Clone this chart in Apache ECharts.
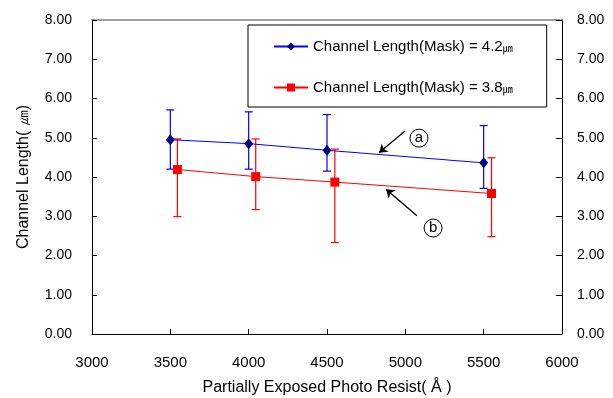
<!DOCTYPE html>
<html>
<head>
<meta charset="utf-8">
<script src="https://cdn.jsdelivr.net/npm/echarts@6/dist/echarts.min.js"></script>
<style>
  html, body { margin: 0; padding: 0; background: #fff; }
  #chart { width: 613px; height: 398px; }
</style>
</head>
<body>
<div id="chart"></div>
<script>
/* data */
const X_TICKS = [3000, 6000, 500]
const Y_TICKS = [0, 8, 1]

const NAME_A = 'Channel Length(Mask) = 4.2㎛'
const NAME_B = 'Channel Length(Mask) = 3.8㎛'

const xA    = [3500, 4000, 4500, 5500]
const yA    = [4.95, 4.85, 4.68, 4.36]
const hiA   = [5.71, 5.66, 5.59, 5.31]
const loA   = [4.20, 4.20, 4.15, 3.71]

const xB    = [3545, 4045, 4550, 5550]
const yB    = [4.19, 4.01, 3.87, 3.58]
const hiB   = [4.97, 4.97, 4.71, 4.49]
const loB   = [2.99, 3.17, 2.33, 2.48]

// annotation arrows: [from, to] and circled labels, in data units
const ARROWS = [
  [[4998, 5.17], [4832, 4.62]],
  [[5074, 3.01], [4877, 3.69]],
]
const MARKS = [
  { coord: [5087, 4.99], text: 'a' },
  { coord: [5177, 2.70], text: 'b' },
]

const FONT = '"Liberation Sans", Arial, sans-serif'

function errSeries(xs, lo, hi, color) {
  return {
    type: 'custom',
    silent: true,
    z: 1,
    data: xs.map((x, i) => [x, lo[i], hi[i]]),
    encode: { x: 0, y: [1, 2] },
    renderItem: (params, api) => {
      const x = api.value(0)
      const pLo = api.coord([x, api.value(1)])
      const pHi = api.coord([x, api.value(2)])
      const w = 4
      const st = { stroke: color, lineWidth: 1.2 }
      return {
        type: 'group',
        children: [
          { type: 'line', shape: { x1: pLo[0], y1: pLo[1], x2: pHi[0], y2: pHi[1] }, style: st },
          { type: 'line', shape: { x1: pHi[0] - w, y1: pHi[1], x2: pHi[0] + w, y2: pHi[1] }, style: st },
          { type: 'line', shape: { x1: pLo[0] - w, y1: pLo[1], x2: pLo[0] + w, y2: pLo[1] }, style: st },
        ],
      }
    },
  }
}

const legendFmt = n => {
  const i = n.lastIndexOf('㎛')
  return '{t|' + n.slice(0, i) + '}{u|㎛}'
}

const chart = echarts.init(document.getElementById('chart'))
chart.setOption({
  animation: false,
  backgroundColor: '#fff',
  textStyle: { fontFamily: FONT },
  grid: { left: 92, right: 51, top: 20, bottom: 64, containLabel: false, outerBoundsMode: 'none' },
  legend: {
    orient: 'vertical',
    left: 248,
    top: 25,
    padding: [14, 34, 12, 25],
    itemWidth: 34,
    itemHeight: 10,
    itemGap: 26,
    borderColor: '#000',
    borderWidth: 1,
    backgroundColor: '#fff',
    data: [NAME_A, NAME_B],
    formatter: legendFmt,
    textStyle: {
      rich: {
        t: { fontFamily: FONT, fontSize: 15, color: '#000' },
        u: { fontFamily: '"Noto Sans CJK KR", sans-serif', fontSize: 10, color: '#000', padding: [4, 0, 0, 0] },
      },
    },
  },
  xAxis: [{
    type: 'value',
    min: X_TICKS[0], max: X_TICKS[1], interval: X_TICKS[2],
    name: 'Partially Exposed Photo Resist( Å )',
    nameLocation: 'middle',
    nameGap: 46,
    nameTextStyle: { fontFamily: FONT, fontSize: 16, color: '#000' },
    axisLine: { onZero: false, lineStyle: { color: '#000', width: 1 } },
    axisTick: { inside: true, length: 5, lineStyle: { color: '#000' } },
    axisLabel: { fontFamily: FONT, fontSize: 15, color: '#000', margin: 21, formatter: v => String(v) },
    splitLine: { show: false },
  }, {
    type: 'value',
    position: 'top',
    min: X_TICKS[0], max: X_TICKS[1],
    axisLine: { show: true, onZero: false, lineStyle: { color: '#808080', width: 1.5 } },
    axisTick: { show: false },
    axisLabel: { show: false },
    splitLine: { show: false },
  }],
  yAxis: [{
    type: 'value',
    min: Y_TICKS[0], max: Y_TICKS[1], interval: Y_TICKS[2],
    name: 'Channel Length( ㎛)',
    nameLocation: 'middle',
    nameGap: 60,
    nameTextStyle: { fontFamily: FONT, fontSize: 16, color: '#000' },
    axisLine: { show: true, onZero: false, lineStyle: { color: '#000', width: 1 } },
    axisTick: { show: true, inside: true, length: 5, lineStyle: { color: '#000' } },
    axisLabel: { fontFamily: FONT, fontSize: 14, color: '#000', margin: 20, formatter: v => v.toFixed(2) },
    splitLine: { show: false },
  }, {
    type: 'value',
    position: 'right',
    min: Y_TICKS[0], max: Y_TICKS[1], interval: Y_TICKS[2],
    axisLine: { show: true, onZero: false, lineStyle: { color: '#000', width: 1 } },
    axisTick: { show: true, inside: true, length: 6, lineStyle: { color: '#000' } },
    axisLabel: { fontFamily: FONT, fontSize: 14, color: '#000', margin: 15, formatter: v => v.toFixed(2) },
    splitLine: { show: false },
  }],
  series: [
    errSeries(xA, loA, hiA, '#0000ff'),
    errSeries(xB, loB, hiB, '#ff0000'),
    {
      name: NAME_A,
      type: 'line',
      z: 3,
      data: xA.map((x, i) => [x, yA[i]]),
      symbol: 'diamond',
      symbolSize: [9, 11],
      itemStyle: { color: '#000080' },
      lineStyle: { color: '#0000ff', width: 1 },
      markLine: {
        silent: true,
        symbol: ['none', 'arrow'],
        symbolSize: 8,
        label: { show: false },
        lineStyle: { color: '#000', width: 1.3, type: 'solid' },
        data: ARROWS.map(([a, b]) => [{ coord: a }, { coord: b }]),
      },
      markPoint: {
        silent: true,
        symbol: 'circle',
        symbolSize: 18,
        itemStyle: { color: '#fff', borderColor: '#000', borderWidth: 1 },
        label: { show: true, position: 'inside', color: '#000', fontSize: 15, fontFamily: FONT },
        data: MARKS.map(m => ({ coord: m.coord, value: m.text })),
      },
    },
    {
      name: NAME_B,
      type: 'line',
      z: 3,
      data: xB.map((x, i) => [x, yB[i]]),
      symbol: 'rect',
      symbolSize: 9,
      itemStyle: { color: '#ff0000' },
      lineStyle: { color: '#ff0000', width: 1 },
    },
  ],
})
</script>
</body>
</html>
